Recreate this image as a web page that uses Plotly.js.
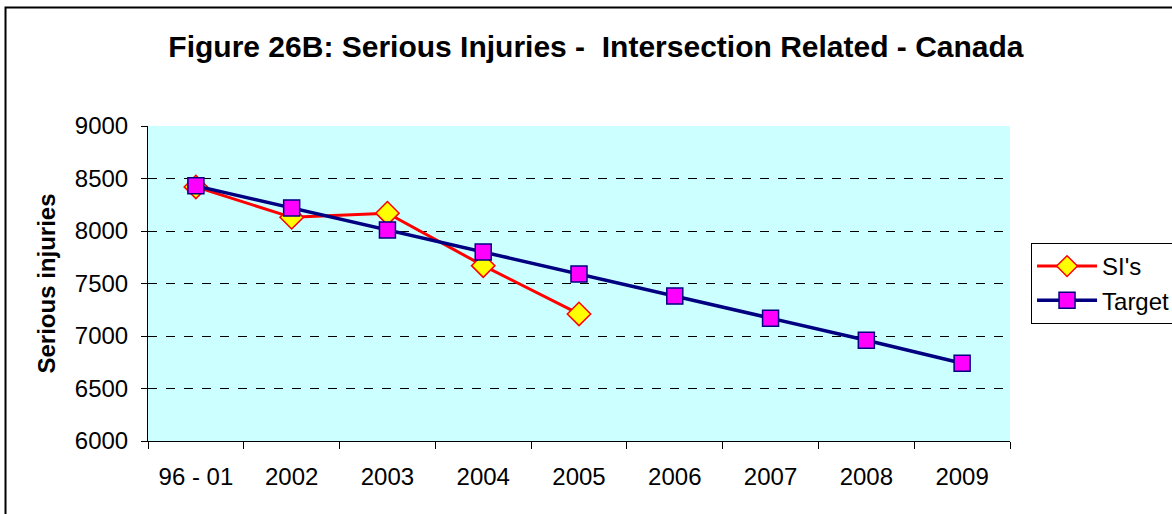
<!DOCTYPE html>
<html>
<head>
<meta charset="utf-8">
<script src="https://cdn.plot.ly/plotly-3.0.1.min.js"></script>
<style>
  html, body { margin: 0; padding: 0; background: #fff; }
  #chart { width: 1172px; height: 514px; }
</style>
</head>
<body>
<div id="chart"></div>
<script>
// Categories along the x axis
const years = ["96 - 01", "2002", "2003", "2004", "2005", "2006", "2007", "2008", "2009"];
// Recorded serious injuries (intersection related)
const siValues = [8420, 8130, 8170, 7670, 7210];
// Target trajectory
const targetValues = [8430, 8220, 8010, 7800, 7590, 7380, 7170, 6960, 6740];

const FONT = "Arial, 'Liberation Sans', sans-serif";

const traces = [
  {
    name: "SI's",
    x: years.slice(0, siValues.length),
    y: siValues,
    type: "scatter",
    mode: "lines+markers",
    line: { color: "#FF0000", width: 3 },
    marker: { symbol: "diamond", size: 18, color: "#FFFF00", line: { color: "#FF0000", width: 1.5 } }
  },
  {
    name: "Target",
    x: years,
    y: targetValues,
    type: "scatter",
    mode: "lines+markers",
    line: { color: "#000080", width: 3.5 },
    marker: { symbol: "square", size: 16, color: "#FF00FF", line: { color: "#000080", width: 1.5 } }
  }
];

const layout = {
  width: 1172,
  height: 514,
  margin: { l: 148, r: 162, t: 126, b: 73, autoexpand: false },
  paper_bgcolor: "#FFFFFF",
  plot_bgcolor: "#CCFFFF",
  font: { family: FONT, size: 24, color: "#000" },
  title: {
    text: "Figure 26B: Serious Injuries -\u00a0 Intersection Related - Canada",
    font: { size: 30, family: FONT, weight: "bold", color: "#000" },
    x: 0.5085, xanchor: "center",
    y: 0.91, yanchor: "middle"
  },
  xaxis: {
    type: "category",
    categoryorder: "array",
    categoryarray: years,
    range: [-0.5, years.length - 0.5],
    showline: true, linecolor: "#000", linewidth: 1,
    ticks: "outside", ticklen: 7, tickcolor: "#000", tickwidth: 1,
    tickson: "boundaries",
    showgrid: false,
    zeroline: false,
    tickfont: { size: 24 },
    ticklabelstandoff: 14
  },
  yaxis: {
    range: [6000, 9000],
    tickvals: [6000, 6500, 7000, 7500, 8000, 8500, 9000],
    ticktext: ["6000", "6500", "7000", "7500", "8000", "8500", "9000"],
    showline: true, linecolor: "#000", linewidth: 1,
    ticks: "outside", ticklen: 6, tickcolor: "#000", tickwidth: 1,
    showgrid: true, gridcolor: "#000", gridwidth: 1, griddash: "dash",
    zeroline: false,
    tickfont: { size: 24 },
    ticklabelstandoff: 8,
    title: {
      text: "Serious injuries",
      font: { size: 24, weight: "bold" },
      standoff: 12
    }
  },
  showlegend: true,
  legend: {
    x: 1.0244, xanchor: "left",
    y: 0.6286, yanchor: "top",
    bgcolor: "#FFFFFF",
    bordercolor: "#000", borderwidth: 1,
    font: { size: 24 },
    itemwidth: 60,
    tracegroupgap: 6
  },
  shapes: [
    // outer chart frame
    {
      type: "rect", xref: "paper", yref: "paper",
      x0: -0.1653, x1: 1.5, y0: -0.6, y1: 1.376,
      line: { color: "#000", width: 2 }, fillcolor: "rgba(0,0,0,0)", layer: "below"
    }
  ]
};

Plotly.newPlot("chart", traces, layout, { displayModeBar: false, staticPlot: true });
</script>
</body>
</html>
